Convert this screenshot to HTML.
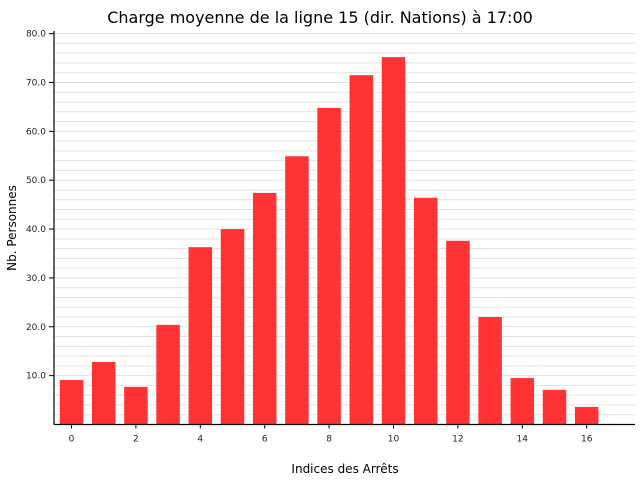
<!DOCTYPE html>
<html><head><meta charset="utf-8"><style>
body{margin:0;background:#fff;font-family:"DejaVu Sans","Liberation Sans",sans-serif}
</style></head><body>
<svg width="640" height="480" xmlns="http://www.w3.org/2000/svg">
<text x="320" y="23" text-anchor="middle" font-size="16" font-family="DejaVu Sans, sans-serif">Charge moyenne de la ligne 15 (dir. Nations) à 17:00</text>
<g id="grid"></g>
<g id="bars"></g>
<g id="axes"></g>
<text x="345" y="473" text-anchor="middle" font-size="12" font-family="DejaVu Sans, sans-serif">Indices des Arrêts</text>
<text transform="translate(16,228) rotate(-90)" text-anchor="middle" font-size="12" font-family="DejaVu Sans, sans-serif">Nb. Personnes</text>
</svg>
<script>
const categories=[0,1,2,3,4,5,6,7,8,9,10,11,12,13,14,15,16];
const values=[9.1,12.8,7.7,20.4,36.3,40.0,47.4,54.9,64.8,71.5,75.2,46.4,37.6,22.0,9.5,7.1,3.6];
const yTicks=[10,20,30,40,50,60,70,80];
const xTicks=[0,2,4,6,8,10,12,14,16];
const NS="http://www.w3.org/2000/svg";
const left=54,right=635,y0=424.5,pxPerUnit=4.886;
const y=v=>y0-v*pxPerUnit;
const x=i=>71.5+i*32.2;
const bw=23.5;
function mk(t,a,p){const e=document.createElementNS(NS,t);for(const k in a)e.setAttribute(k,a[k]);p.appendChild(e);return e;}
const grid=document.getElementById('grid'),bars=document.getElementById('bars'),axes=document.getElementById('axes');
for(let v=2;v<=80;v+=2){const l=mk('line',{x1:left,x2:right,y1:y(v),y2:y(v),stroke:'#e0e0e0','stroke-width':1},grid);

}
categories.forEach((c,i)=>{const r=mk('rect',{x:x(c)-bw/2,y:y(values[i]),width:bw,height:values[i]*pxPerUnit,fill:'#ff3333'},bars);

});
let a=mk('line',{x1:left,x2:left,y1:31,y2:y0,stroke:'#000','stroke-width':1.2},axes);


a=mk('line',{x1:left,x2:right,y1:y0,y2:y0,stroke:'#000','stroke-width':1.2},axes);


yTicks.forEach(v=>{mk('line',{x1:left-5,x2:left,y1:y(v),y2:y(v),stroke:'#000'},axes);
const t=mk('text',{x:left-8,y:y(v)+3,'text-anchor':'end','font-size':9,fill:'#222'},axes);t.textContent=v.toFixed(1);

});
xTicks.forEach(v=>{mk('line',{x1:x(v),x2:x(v),y1:y0,y2:y0+4,stroke:'#000'},axes);
const t=mk('text',{x:x(v),y:y0+17,'text-anchor':'middle','font-size':9,fill:'#222'},axes);t.textContent=v;

});
</script>
</body></html>
